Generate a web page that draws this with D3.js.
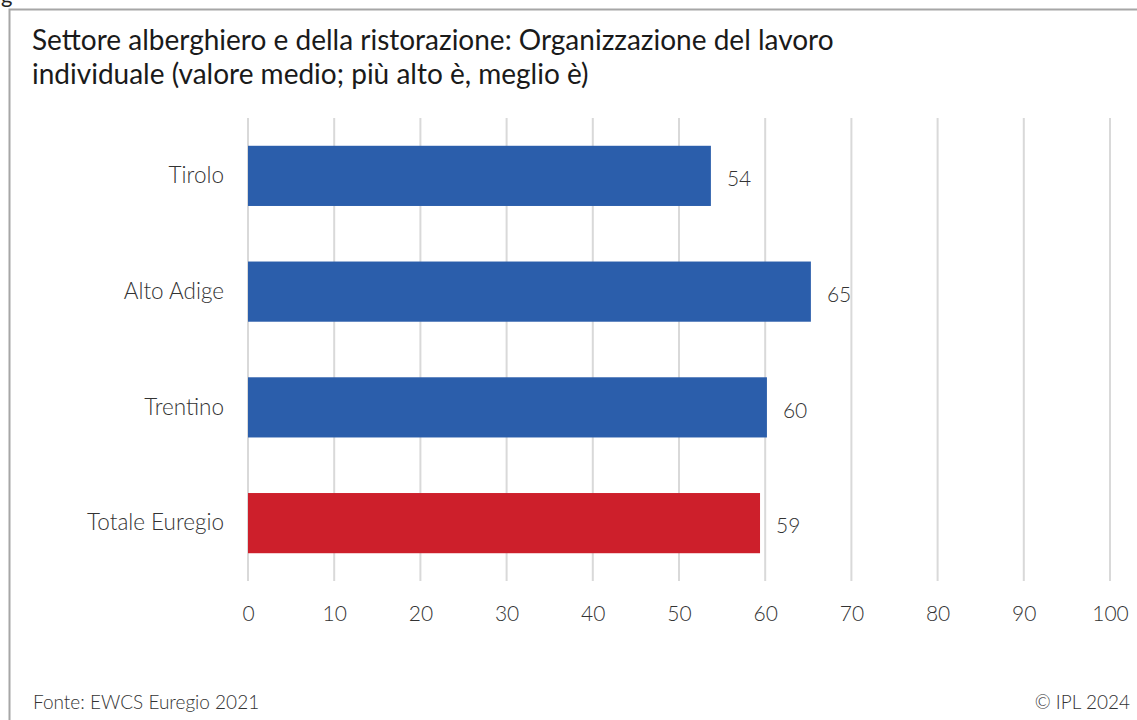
<!DOCTYPE html>
<html>
<head>
<meta charset="utf-8">
<script src="https://cdn.jsdelivr.net/npm/d3@7.9.0/dist/d3.min.js"></script>
<style>
  html, body { margin: 0; padding: 0; background: #fff; }
  svg { display: block; font-family: Lato, "Open Sans", sans-serif; }
</style>
</head>
<body>
<div id="chart"></div>
<script>
// Chart data
const categories = ['Tirolo', 'Alto Adige', 'Trentino', 'Totale Euregio'];
const values = [53.7, 65.3, 60.2, 59.4];
const valueLabels = ['54', '65', '60', '59'];
const barColors = ['#2b5eab', '#2b5eab', '#2b5eab', '#cd1f2b'];
const xTicks = [0, 10, 20, 30, 40, 50, 60, 70, 80, 90, 100];
const titleLines = [
    'Settore alberghiero e della ristorazione: Organizzazione del lavoro',
    'individuale (valore medio; più alto è, meglio è)'
];

const width = 1137;
const height = 720;

const svg = d3.select('#chart').append('svg')
    .attr('width', width)
    .attr('height', height);

// Frame (only top and left edges are visible)
svg.append('path')
    .attr('d', `M9.5,${height} V9.5 H${width}`)
    .attr('fill', 'none')
    .attr('stroke', '#a6a6a6')
    .attr('stroke-width', 2);

// Cut off caption letter above the frame
svg.append('text')
    .attr('x', 1)
    .attr('y', 3)
    .style('font-size', '22px')
    .attr('fill', '#222')
    .text('g');

// Title
svg.append('g')
    .selectAll('text')
    .data(titleLines)
    .join('text')
    .attr('x', 32)
    .attr('y', (d, i) => 50 + i * 34)
    .style('font-size', '28px')
    .attr('fill', '#1a1a1a')
    .text(d => d);

const margin = { top: 118, left: 248 };

const x = d3.scaleLinear()
    .domain([0, 100])
    .range([0, 862]);

const y = d3.scaleBand()
    .domain(categories)
    .range([0, 463])
    .paddingInner(0.48)
    .paddingOuter(0.24);

const g = svg.append('g')
    .attr('transform', `translate(${margin.left},${margin.top})`);

// Vertical grid lines
g.append('g')
    .selectAll('line')
    .data(xTicks)
    .join('line')
    .attr('x1', d => x(d))
    .attr('x2', d => x(d))
    .attr('y1', 0)
    .attr('y2', 463)
    .attr('stroke', '#d9d9d9')
    .attr('stroke-width', 2);

// X axis labels
const xAxis = d3.axisBottom(x)
    .tickValues(xTicks)
    .tickSize(0)
    .tickPadding(25);

g.append('g')
    .attr('transform', 'translate(0,463)')
    .call(xAxis)
    .call(sel => sel.select('.domain').remove())
    .selectAll('text')
    .style('font-size', '21px')
    .style('font-family', 'Lato, sans-serif')
    .style('font-weight', 300)
    .attr('fill', '#333');

// Category labels
const yAxis = d3.axisLeft(y)
    .tickSize(0)
    .tickPadding(24);

g.append('g')
    .call(yAxis)
    .call(sel => sel.select('.domain').remove())
    .selectAll('text')
    .style('font-size', '22.5px')
    .style('font-family', 'Lato, sans-serif')
    .style('font-weight', 300)
    .attr('fill', '#333');

// Bars
g.selectAll('rect.bar')
    .data(values)
    .join('rect')
    .attr('class', 'bar')
    .attr('x', x(0))
    .attr('y', (d, i) => y(categories[i]))
    .attr('width', d => x(d) - x(0))
    .attr('height', y.bandwidth())
    .attr('fill', (d, i) => barColors[i]);

// Value labels
g.selectAll('text.value')
    .data(values)
    .join('text')
    .attr('class', 'value')
    .attr('x', d => x(d) + 16)
    .attr('y', (d, i) => y(categories[i]) + y.bandwidth() / 2 + 3)
    .attr('dy', '0.35em')
    .style('font-size', '21px')
    .style('font-weight', 300)
    .attr('fill', '#333')
    .text((d, i) => valueLabels[i]);

// Footer
svg.append('text')
    .attr('x', 33)
    .attr('y', 709)
    .style('font-size', '19px')
    .style('font-weight', 300)
    .attr('fill', '#333')
    .text('Fonte: EWCS Euregio 2021');

svg.append('text')
    .attr('x', 1130)
    .attr('y', 709)
    .attr('text-anchor', 'end')
    .style('font-size', '19px')
    .style('font-weight', 300)
    .attr('fill', '#333')
    .text('© IPL 2024');
</script>
</body>
</html>
